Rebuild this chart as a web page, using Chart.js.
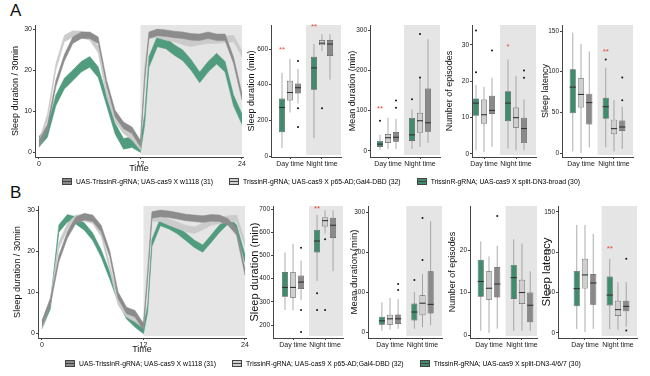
<!DOCTYPE html>
<html>
<head>
<meta charset="utf-8">
<script src="https://cdn.jsdelivr.net/npm/chart.js@4.4.0/dist/chart.umd.min.js"></script>
<style>
  body { margin: 0; background: #fff; font-family: "Liberation Sans", Arial, sans-serif; }
  #wrap { position: relative; width: 650px; height: 376px; overflow: hidden; }
  #wrap canvas { position: absolute; left: 0; top: 0; }
  .tag { position: absolute; font-size: 17px; line-height: 17px; color: #111; }
  .legend { position: absolute; display: flex; align-items: center; font-size: 6.8px; color: #000; white-space: nowrap; }
  .legend .item { display: flex; align-items: center; margin-right: 16px; }
  .legend .key { width: 8px; height: 5px; border: 1px solid #444; margin-right: 4px;
                 background-image: linear-gradient(#444, #444); background-size: 100% 1px;
                 background-position: center; background-repeat: no-repeat; }
</style>
</head>
<body>
<div id="wrap">
  <div class="tag" style="left:10px;top:2px">A</div>
  <div class="tag" style="left:10px;top:184px">B</div>
</div>
<script>
// ---- data ----
const periods = ['Day time', 'Night time'];
const namesA = ['UAS-TrissinR-gRNA; UAS-cas9 X w1118 (31)', 'TrissinR-gRNA; UAS-cas9 X p65-AD;Gal4-DBD (32)', 'TrissinR-gRNA; UAS-cas9 X split-DN3-broad (30)'];
const namesB = ['UAS-TrissinR-gRNA; UAS-cas9 X w1118 (31)', 'TrissinR-gRNA; UAS-cas9 X p65-AD;Gal4-DBD (32)', 'TrissinR-gRNA; UAS-cas9 X split-DN3-4/6/7 (30)'];

// time points (h) for the sleep profiles
const hours = [0,1,2,3,4,5,6,7,8,9,10,11,12,12.5,13,14,15,16,17,18,19,20,21,22,23,24];
const timeTicks = [0, 12, 24];
const profileTicks = [0, 10, 20, 30];

// sleep per 30 min, mean
const profA_w1118 = [2,6,16.7,23,27.3,28.5,28.5,27.3,16.7,9.4,6.5,5.3,2,18,28.5,29.2,29,28.7,28.5,28.1,28,28.5,28,28,22.4,13.5];
const profA_p65   = [2,8.5,20.8,27.7,28.8,28.7,28.1,25,14.3,8.1,5.3,3.7,1.2,20,28.5,28.7,28.1,27.7,27,26.5,27,27.3,27.3,27.5,27.7,24];
const profA_dn3   = [2.5,4.9,12.6,16.7,18.7,20.8,22,19.5,12.6,5.7,2,2.4,1.2,8,22,27,26.5,24.9,23.6,21.2,18.2,20.8,22.8,20.8,12.6,8];
const profB_w1118 = [2.3,7.6,18.2,23.9,27.5,28.4,28,25.5,19.4,9.2,5.5,4.7,1.5,14,28.8,29.2,29,28.6,28.2,28,27.8,28.1,28,27.1,24.7,14.9];
const profB_p65   = [1.9,8,21.4,26,28,28.1,27.5,24.3,16.1,7.6,4.7,3.5,1.9,16,28.1,28,27.1,26.3,25.5,25.1,26,27.1,27.5,27.8,28,21.8];
const profB_dn3   = [1.9,6.8,25.5,28,27.5,26,23.5,19.4,14.1,8.4,4.3,2.3,0.7,6,22,27.1,26.3,25.1,23.5,21.8,20.6,23,25.5,27.5,25.5,18.2];
// standard error (half band width)
const semA = [0.8, 0.8, 1.3];
const semB = [0.8, 0.8, 0.9];

// box stats per period: [whisker low, q1, median, q3, whisker high] for Day, Night
const durA_dn3 = [[44,133,272,322,467],[100,372,494,556,628]];
const durA_p65 = [[244,311,356,422,544],[589,622,633,650,683]];
const durA_w   = [[294,350,383,406,489],[428,561,628,650,683]];
const mdA_dn3 = [[3,10,17,25,40],[5,25,40,82,103]];
const mdA_p65 = [[5,20,33,42,82],[10,45,75,95,182]];
const mdA_w   = [[5,23,34,47,80],[20,48,70,155,277]];
const epA_dn3 = [[1,10.5,14,15.3,19],[1.5,9,14,17.3,26]];
const epA_p65 = [[0.5,8.3,10.8,15,18.5],[1,7.2,10,12.8,21.5]];
const epA_w   = [[2,11,12,16,21],[1,3,7,10,15]];
const latA_dn3 = [[2,49,81,103,148],[7,42,57,68,105]];
const latA_p65 = [[0,56,72,92,134],[2,23,30,41,65]];
const latA_w   = [[7,35,62,73,125],[5,27,32,40,57]];

const durB_dn3 = [[265,322,362,428,513],[390,513,562,610,675]];
const durB_p65 = [[263,318,362,427,550],[595,625,650,665,695]];
const durB_w   = [[307,355,385,413,478],[432,575,630,662,695]];
const mdB_dn3 = [[3,18,28,38,74],[8,29,50,71,100]];
const mdB_p65 = [[6,18,33,43,85],[12,42,72,92,145]];
const mdB_w   = [[8,20,33,44,82],[17,46,69,152,277]];
const epB_dn3 = [[1,9,12.6,17.7,22],[1,8.5,13.5,16.5,22.5]];
const epB_p65 = [[0.5,8.3,11,15,18.5],[1,7.3,10,13,21.5]];
const epB_w   = [[1.5,8.8,12,16,21],[1,3,7,10,15]];
const latB_dn3 = [[5,33,55,77,134],[5,34,47,70,92]];
const latB_p65 = [[1,55,72,92,134],[4,21,29,40,63]];
const latB_w   = [[5,35,62,73,123],[8,27,33,40,63]];

// outliers: [period, genotype (0 dn3, 1 p65, 2 w1118), value]
const durA_out = [[1,1,268],[0,2,533],[0,2,268],[0,2,163]];
const mdA_out  = [[0,0,75],[0,2,125],[0,2,107],[1,0,128],[1,1,290],[1,1,182]];
const epA_out  = [[0,0,34],[0,0,22.5],[0,2,28.5],[1,2,23],[1,2,21]];
const latA_out = [[1,0,115],[1,2,93],[1,2,65]];
const durB_out = [[0,2,533],[0,2,265],[0,2,170],[1,0,337],[1,0,265],[1,1,265],[1,1,570]];
const mdB_out  = [[0,2,120],[0,2,105],[1,0,130],[1,1,285],[1,1,180]];
const epB_out  = [[0,2,28]];
const latB_out = [[1,2,92],[1,2,3]];

// significance marks: [period, value, text]
const durA_sig = [[0,598,'**'],[1,722,'**']];
const mdA_sig  = [[0,104,'**']];
const epA_sig  = [[1,29.5,'*']];
const latA_sig = [[1,124,'**']];
const durB_sig = [[1,700,'**']];
const latB_sig = [[1,104,'**']];

const ticksDurA = [0,200,400,600];
const ticksDurB = [200,300,400,500,600,700];
const ticksMd = [0,100,200,300];
const ticksEpA = [0,10,20,30];
const ticksEpB = [0,10,20];
const ticksLat = [0,50,100,150];

// ---- styles ----
const FONT = '"Liberation Sans", Arial, sans-serif';
const bandCols = ['#8c8c8c', '#cbcbcb', '#519c7e'];   // w1118, p65, dn3
const boxCols = ['#3f8d6d', '#cfcfcf', '#8a8a8a'];    // dn3, p65, w1118
const shadeCol = '#e5e5e5';
const axisCol = '#444';
const W = 650, H = 376;

const wrap = document.getElementById('wrap');
function newCanvas() {
  const c = document.createElement('canvas');
  c.width = W; c.height = H;
  wrap.appendChild(c);
  return c.getContext('2d');
}

const shadePlugin = {
  id: 'shade',
  beforeDraw(chart) {
    const { ctx, chartArea: a, scales: { x } } = chart;
    let x0, x1;
    if (x.type === 'category') {
      x0 = x.getPixelForValue(0.5);
      x1 = a.right;
    } else {
      x0 = x.getPixelForValue(12);
      x1 = x.getPixelForValue(24);
    }
    ctx.save();
    ctx.fillStyle = shadeCol;
    ctx.fillRect(x0, a.top, x1 - x0, a.bottom - a.top - 2);
    ctx.restore();
  }
};

const boxPlugin = {
  id: 'boxes',
  beforeDatasetsDraw(chart) {
    const { ctx, scales: { y } } = chart;
    ctx.save();
    ctx.strokeStyle = '#8a8a8a';
    ctx.lineWidth = 0.7;
    chart.data.datasets.forEach((ds, i) => {
      chart.getDatasetMeta(i).data.forEach((el, j) => {
        const s = ds.stats[j];
        ctx.beginPath();
        ctx.moveTo(el.x, y.getPixelForValue(s[0]));
        ctx.lineTo(el.x, y.getPixelForValue(s[4]));
        ctx.stroke();
      });
    });
    ctx.restore();
  },
  afterDatasetsDraw(chart) {
    const { ctx, scales: { y } } = chart;
    const extra = chart.options.plugins.boxes;
    ctx.save();
    chart.data.datasets.forEach((ds, i) => {
      chart.getDatasetMeta(i).data.forEach((el, j) => {
        const s = ds.stats[j];
        const py = y.getPixelForValue(s[2]);
        ctx.strokeStyle = '#333';
        ctx.lineWidth = 1.1;
        ctx.beginPath();
        ctx.moveTo(el.x - el.width / 2, py);
        ctx.lineTo(el.x + el.width / 2, py);
        ctx.stroke();
      });
    });
    ctx.fillStyle = '#111';
    (extra.outliers || []).forEach(([p, g, v]) => {
      const el = chart.getDatasetMeta(g).data[p];
      ctx.beginPath();
      ctx.arc(el.x, y.getPixelForValue(v), 1, 0, Math.PI * 2);
      ctx.fill();
    });
    ctx.fillStyle = '#e0503c';
    ctx.font = '8px ' + FONT;
    ctx.textAlign = 'center';
    ctx.textBaseline = 'middle';
    (extra.sigs || []).forEach(([p, v, t]) => {
      const el = chart.getDatasetMeta(0).data[p];
      ctx.fillText(t, el.x, y.getPixelForValue(v));
    });
    ctx.restore();
  }
};

function axisBase() {
  return {
    grid: { display: true, drawOnChartArea: false, drawTicks: true, tickLength: 2, color: axisCol, offset: false },
    border: { display: true, color: axisCol, width: 1 },
    ticks: { font: { size: 6.5, family: FONT }, color: '#222', padding: 1, maxRotation: 0, autoSkip: false }
  };
}

// area: plot box (l,t,r,b), tx = centre of the y title, ts = its font size
function frame(area, hx) {
  const pl = area.tx - 0.6 * area.ts;
  return {
    padding: { left: pl, top: area.t, right: W - area.r, bottom: H - area.b - hx },
    wy: area.l - pl
  };
}

function profileChart(area, means, sem, xr) {
  const f = frame(area, 17);
  const datasets = [];
  [0, 1, 2].forEach(g => {
    datasets.push({
      data: hours.map((h, i) => ({ x: h, y: means[g][i] + sem[g] })),
      fill: '+1', backgroundColor: bandCols[g], borderColor: bandCols[g], borderWidth: 0.5, pointRadius: 0
    });
    datasets.push({
      data: hours.map((h, i) => ({ x: h, y: means[g][i] - sem[g] })),
      fill: false, borderColor: bandCols[g], borderWidth: 0.5, pointRadius: 0
    });
  });
  const xAx = axisBase(), yAx = axisBase();
  xAx.ticks.font.size = 7;
  yAx.ticks.font.size = 7;
  new Chart(newCanvas(), {
    type: 'line',
    data: { datasets },
    options: {
      responsive: false, animation: false, devicePixelRatio: 1,
      layout: { padding: f.padding },
      plugins: { legend: { display: false }, tooltip: { enabled: false } },
      scales: {
        x: Object.assign(xAx, {
          type: 'linear', min: xr[0], max: xr[1],
          afterBuildTicks: s => { s.ticks = timeTicks.map(v => ({ value: v })); },
          title: { display: true, text: 'Time', font: { size: 9, family: FONT }, color: '#111', padding: 0 },
          afterFit: s => { s.height = 17; }
        }),
        y: Object.assign(yAx, {
          min: -1.22, max: 31,
          afterBuildTicks: s => { s.ticks = profileTicks.map(v => ({ value: v })); },
          title: { display: true, text: 'Sleep duration / 30min', font: { size: area.ts, family: FONT }, color: '#111', padding: 0 },
          afterFit: s => { s.width = f.wy; }
        })
      }
    },
    plugins: [shadePlugin]
  });
}

// xDom: visible category range, ggplot-like padding around the two groups
function boxChart(area, xDom, title, yr, yTicks, stats, outliers, sigs) {
  const f = frame(area, 20);
  const xAx = axisBase(), yAx = axisBase();
  xAx.ticks.font.size = 7;
  new Chart(newCanvas(), {
    type: 'bar',
    data: {
      labels: periods,
      datasets: stats.map((st, g) => ({
        data: st.map(s => [s[1], s[3]]),
        stats: st,
        backgroundColor: boxCols[g], borderColor: '#555', borderWidth: 0.7, borderSkipped: false,
        categoryPercentage: 0.75, barPercentage: 0.75
      }))
    },
    options: {
      responsive: false, animation: false, devicePixelRatio: 1,
      layout: { padding: f.padding },
      plugins: { legend: { display: false }, tooltip: { enabled: false }, boxes: { outliers, sigs } },
      scales: {
        x: Object.assign(xAx, {
          afterBuildTicks: s => { s._startValue = xDom[0]; s._valueRange = xDom[1] - xDom[0]; },
          afterFit: s => { s.height = 20; }
        }),
        y: Object.assign(yAx, {
          min: yr[0], max: yr[1],
          afterBuildTicks: s => { s.ticks = yTicks.map(v => ({ value: v })); },
          title: { display: true, text: title, font: { size: area.ts, family: FONT }, color: '#111', padding: 0 },
          afterFit: s => { s.width = f.wy; }
        })
      }
    },
    plugins: [shadePlugin, boxPlugin]
  });
}

// ---- row A ----
profileChart({ l: 35, t: 25, r: 243, b: 157, tx: 16, ts: 9 }, [profA_w1118, profA_p65, profA_dn3], semA, [-0.47, 24.12]);
boxChart({ l: 271, t: 25, r: 341, b: 157, tx: 252, ts: 9 }, [-0.594, 1.594], 'Sleep duration (min)', [-5.6, 734.6], ticksDurA, [durA_dn3, durA_p65, durA_w], durA_out, durA_sig);
boxChart({ l: 370, t: 25, r: 440, b: 157, tx: 353, ts: 9 }, [-0.5625, 1.625], 'Mean duration (min)', [-14.9, 312.4], ticksMd, [mdA_dn3, mdA_p65, mdA_w], mdA_out, mdA_sig);
boxChart({ l: 472, t: 25, r: 536, b: 157, tx: 450, ts: 9 }, [-0.375, 1.625], 'Number of episodes', [-0.83, 35.5], ticksEpA, [epA_dn3, epA_p65, epA_w], epA_out, epA_sig);
boxChart({ l: 562, t: 25, r: 633, b: 157, tx: 546, ts: 9 }, [-0.576, 1.576], 'Sleep latency', [-4.9, 157.4], ticksLat, [latA_dn3, latA_p65, latA_w], latA_out, latA_sig);

// ---- row B ----
profileChart({ l: 38, t: 206, r: 246, b: 338, tx: 17, ts: 9.2 }, [profB_w1118, profB_p65, profB_dn3], semB, [-0.47, 24.12]);
boxChart({ l: 273, t: 206, r: 343, b: 338, tx: 255, ts: 11 }, [-0.625, 1.56], 'Sleep duration (min)', [144, 713], ticksDurB, [durB_dn3, durB_p65, durB_w], durB_out, durB_sig);
boxChart({ l: 368, t: 206, r: 442, b: 338, tx: 354, ts: 9.5 }, [-0.677, 1.6], 'Mean duration (min)', [-15, 315], ticksMd, [mdB_dn3, mdB_p65, mdB_w], mdB_out, []);
boxChart({ l: 470, t: 206, r: 537, b: 338, tx: 453, ts: 9 }, [-0.576, 1.455], 'Number of episodes', [-0.7, 30.35], ticksEpB, [epB_dn3, epB_p65, epB_w], epB_out, []);
boxChart({ l: 558, t: 206, r: 637, b: 338, tx: 547, ts: 11.5 }, [-0.818, 1.576], 'Sleep latency', [-6.2, 157.4], ticksLat, [latB_dn3, latB_p65, latB_w], latB_out, latB_sig);

// ---- legends (order: w1118, p65, DN3) ----
function legendRow(top, left, names) {
  const row = document.createElement('div');
  row.className = 'legend';
  row.style.top = top + 'px';
  row.style.left = left + 'px';
  names.forEach((n, i) => {
    const item = document.createElement('div');
    item.className = 'item';
    const key = document.createElement('span');
    key.className = 'key';
    key.style.backgroundColor = [boxCols[2], boxCols[1], boxCols[0]][i];
    const txt = document.createElement('span');
    txt.textContent = n;
    item.appendChild(key);
    item.appendChild(txt);
    row.appendChild(item);
  });
  wrap.appendChild(row);
}
legendRow(178, 62, namesA);
legendRow(360, 65, namesB);
</script>
</body>
</html>
